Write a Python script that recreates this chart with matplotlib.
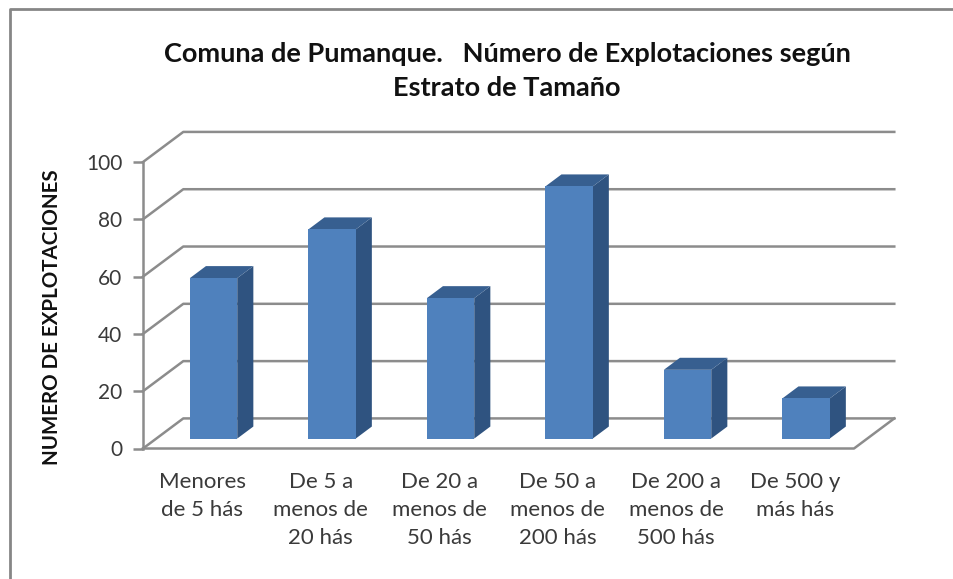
import matplotlib
matplotlib.use("Agg")
import matplotlib.pyplot as plt
from matplotlib.lines import Line2D
from matplotlib.patches import Polygon
from matplotlib.transforms import Bbox, TransformedBbox

categories = ["Menores\nde 5 hás", "De 5 a\nmenos de\n20 hás", "De 20 a\nmenos de\n50 hás",
              "De 50 a\nmenos de\n200 hás", "De 200 a\nmenos de\n500 hás", "De 500 y\nmás hás"]
explotaciones = [56, 73, 49, 88, 24, 14]
y_ticks = [0, 20, 40, 60, 80, 100]

W, H = 954, 579
GRID = "#8c8c8c"
FRONT = "#4f81bd"
SIDE = "#2f5380"
TOP = "#375f90"

# depth of the fake 3d box, in data units
DX = 0.34
DY = 10.5
BAR_W = 0.40
BAR_NEAR = 0.33
BAR_FAR = 0.73
BAR_SHIFT = -0.017

plt.rcParams["font.family"] = ["Lato", "DejaVu Sans"]

fig = plt.figure(figsize=(W / 100, H / 100), dpi=100)
ax = fig.add_axes([143 / W, 1 - 448.5 / H, 711 / W, 286.5 / H])
ax.set_xlim(-0.5, 5.5)
ax.set_ylim(0, 100)
for s in ax.spines.values():
    s.set_visible(False)
ax.patch.set_visible(False)

# walls and floor
for v in y_ticks:
    ax.plot([-0.5, -0.5 + DX, 5.5 + DX], [v, v + DY, v + DY], color=GRID, lw=1.8, clip_on=False, zorder=1)
ax.plot([-0.5, 5.5, 5.5 + DX], [0, 0, DY], color=GRID, lw=1.8, clip_on=False, zorder=1)
ax.plot([-0.5, -0.5], [0, 100], color=GRID, lw=1.8, clip_on=False, zorder=1)

# bars
for i, v in enumerate(explotaciones):
    x0 = i - BAR_W / 2 + BAR_SHIFT + BAR_NEAR * DX
    x1 = x0 + BAR_W
    y0 = BAR_NEAR * DY
    y1 = y0 + v
    ox = (BAR_FAR - BAR_NEAR) * DX
    oy = (BAR_FAR - BAR_NEAR) * DY
    ax.add_patch(Polygon([(x1, y0), (x1 + ox, y0 + oy), (x1 + ox, y1 + oy), (x1, y1)],
                         fc=SIDE, ec="none", clip_on=False, zorder=3))
    ax.add_patch(Polygon([(x0, y1), (x1, y1), (x1 + ox, y1 + oy), (x0 + ox, y1 + oy)],
                         fc=TOP, ec="none", clip_on=False, zorder=3))
    ax.add_patch(Polygon([(x0, y0), (x1, y0), (x1, y1), (x0, y1)],
                         fc=FRONT, ec="none", clip_on=False, zorder=4))

ax.set_xticks(range(len(categories)))
ax.set_xticklabels(categories, fontsize=16, color="#3a3a3a", linespacing=1.5, va="top")
ax.tick_params(axis="x", length=0, pad=17)
ax.set_yticks(y_ticks)
ax.set_yticklabels([str(v) for v in y_ticks], fontsize=15, color="#3a3a3a")
ax.tick_params(axis="y", length=7, width=1.8, color=GRID, pad=8)

# the third label line is cut off at the bottom in the original
cut = TransformedBbox(Bbox([[0, 1 - 547 / H], [1, 1]]), fig.transFigure)
for lab in ax.get_xticklabels():
    lab.set_clip_box(cut)
    lab.set_clip_on(True)

fig.text(52 / W, 1 - 317 / H, "NUMERO DE EXPLOTACIONES", rotation=90, fontsize=14.8, fontweight="bold",
         color="#111111", ha="center", va="center")
fig.text(507 / W, 1 - 71 / H, "Comuna de Pumanque.   Número de Explotaciones según\nEstrato de Tamaño",
         fontsize=19.5, fontweight="bold", color="#111111", ha="center", va="center", linespacing=1.55)

# outer frame, only left and top are in the picture
frame_x = [10 / W, 10 / W, 1]
frame_y = [0, 1 - 9 / H, 1 - 9 / H]
fig.add_artist(Line2D(frame_x, frame_y, color="#868686", lw=2))

fig.savefig("out.png", dpi=100)
